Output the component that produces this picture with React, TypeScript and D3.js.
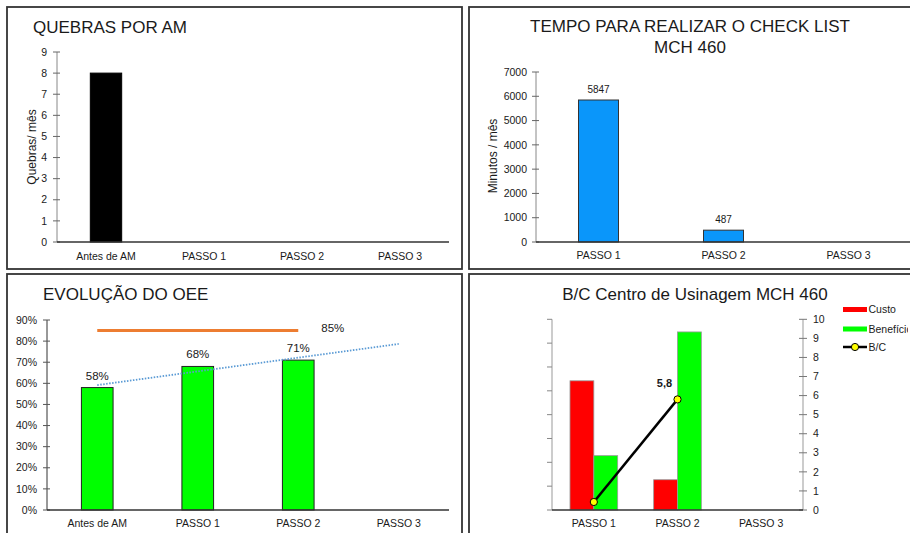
import React from "react";
import * as d3 from "d3";

const FONT = "'Liberation Sans', Arial, sans-serif";
const TXT = "#1a1a1a";

// Quebras por AM
const quebrasCategorias = ["Antes de AM", "PASSO 1", "PASSO 2", "PASSO 3"];
const quebrasValores: (number | null)[] = [8, null, null, null];
const quebrasTicks = [0, 1, 2, 3, 4, 5, 6, 7, 8, 9];

// Tempo para realizar o check list
const tempoCategorias = ["PASSO 1", "PASSO 2", "PASSO 3"];
const tempoValores: (number | null)[] = [5847, 487, null];
const tempoTicks = [0, 1000, 2000, 3000, 4000, 5000, 6000, 7000];

// Evolução do OEE
const oeeCategorias = ["Antes de AM", "PASSO 1", "PASSO 2", "PASSO 3"];
const oeeValores: (number | null)[] = [0.58, 0.68, 0.71, null];
const oeeMeta: (number | null)[] = [0.85, 0.85, 0.85, null];
const oeeTicks = [0, 0.1, 0.2, 0.3, 0.4, 0.5, 0.6, 0.7, 0.8, 0.9];

// B/C Centro de Usinagem
const bcCategorias = ["PASSO 1", "PASSO 2", "PASSO 3"];
const bcCusto: (number | null)[] = [5.42, 1.27, null];
const bcBeneficio: (number | null)[] = [2.28, 7.47, null];
const bcRelacao: (number | null)[] = [0.42, 5.8, null];
const bcTicksEsq = [0, 1, 2, 3, 4, 5, 6, 7, 8];
const bcTicksDir = [0, 1, 2, 3, 4, 5, 6, 7, 8, 9, 10];
const bcLegenda = ["Custo", "Benefício", "B/C"];

const pct = d3.format(".0%");

function Painel({ x, y, w, h }: { x: number; y: number; w: number; h: number }) {
  return <rect x={x} y={y} width={w} height={h} fill="#fff" stroke="#333" strokeWidth={1.8} />;
}

function QuebrasChart() {
  const x = d3.scaleBand().domain(quebrasCategorias).range([57, 449]);
  const y = d3.scaleLinear().domain([0, 9]).range([242, 52]);
  const bw = x.bandwidth() * 0.32;
  return (
    <g>
      <text x={33} y={33} fontSize={17} fill={TXT}>QUEBRAS POR AM</text>
      <line x1={57} x2={57} y1={y(9)} y2={y(0)} stroke="#888" />
      {quebrasTicks.map((t) => (
        <g key={t}>
          <line x1={53} x2={60} y1={y(t)} y2={y(t)} stroke="#666" />
          <text x={47} y={y(t)} dy="0.35em" textAnchor="end" fontSize={10.5} fill={TXT}>{t}</text>
        </g>
      ))}
      {quebrasValores.map((v, i) =>
        v == null ? null : (
          <rect key={i} x={x(quebrasCategorias[i])! + (x.bandwidth() - bw) / 2} y={y(v)} width={bw} height={y(0) - y(v)} fill="#000" stroke="#000" />
        )
      )}
      <line x1={57} x2={449} y1={242} y2={242} stroke="#333" strokeWidth={1.5} />
      {quebrasCategorias.map((c) => (
        <text key={c} x={x(c)! + x.bandwidth() / 2} y={260} textAnchor="middle" fontSize={10.5} fill={TXT}>{c}</text>
      ))}
      <text transform="translate(36,147) rotate(-90)" textAnchor="middle" fontSize={12} fill={TXT}>Quebras/ mês</text>
    </g>
  );
}

function TempoChart() {
  const x = d3.scaleBand().domain(tempoCategorias).range([536, 911]);
  const y = d3.scaleLinear().domain([0, 7000]).range([242, 72]);
  const bw = x.bandwidth() * 0.32;
  return (
    <g>
      <text x={690} y={32} textAnchor="middle" fontSize={17} fill={TXT}>TEMPO PARA REALIZAR O CHECK LIST</text>
      <text x={690} y={53} textAnchor="middle" fontSize={17} fill={TXT}>MCH 460</text>
      <line x1={536} x2={536} y1={y(7000)} y2={y(0)} stroke="#888" />
      {tempoTicks.map((t) => (
        <g key={t}>
          <line x1={532} x2={539} y1={y(t)} y2={y(t)} stroke="#666" />
          <text x={527} y={y(t)} dy="0.35em" textAnchor="end" fontSize={10.5} fill={TXT}>{t}</text>
        </g>
      ))}
      {tempoValores.map((v, i) =>
        v == null ? null : (
          <g key={i}>
            <rect x={x(tempoCategorias[i])! + (x.bandwidth() - bw) / 2} y={y(v)} width={bw} height={y(0) - y(v)} fill="#0A96FA" stroke="#333" />
            <text x={x(tempoCategorias[i])! + x.bandwidth() / 2} y={y(v) - 7} textAnchor="middle" fontSize={10} fill={TXT}>{v}</text>
          </g>
        )
      )}
      <line x1={536} x2={911} y1={242} y2={242} stroke="#333" strokeWidth={1.5} />
      {tempoCategorias.map((c) => (
        <text key={c} x={x(c)! + x.bandwidth() / 2} y={259} textAnchor="middle" fontSize={10.5} fill={TXT}>{c}</text>
      ))}
      <text transform="translate(497,156) rotate(-90)" textAnchor="middle" fontSize={12} fill={TXT}>Minutos / mês</text>
    </g>
  );
}

function OeeChart() {
  const x = d3.scaleBand().domain(oeeCategorias).range([47, 449]);
  const y = d3.scaleLinear().domain([0, 0.9]).range([510, 320]);
  const bw = x.bandwidth() * 0.315;
  const cx = (i: number) => x(oeeCategorias[i])! + x.bandwidth() / 2;

  // linear trend of the measured OEE, extended across every step
  const pts = oeeValores.map((v, i) => [i, v] as [number, number | null]).filter((p) => p[1] != null) as [number, number][];
  const mx = d3.mean(pts, (p) => p[0])!;
  const my = d3.mean(pts, (p) => p[1])!;
  const slope = d3.sum(pts, (p) => (p[0] - mx) * (p[1] - my)) / d3.sum(pts, (p) => (p[0] - mx) ** 2);
  const trend = (i: number) => my + slope * (i - mx);
  const last = oeeCategorias.length - 1;

  const metaIdx = oeeMeta.map((v, i) => (v == null ? -1 : i)).filter((i) => i >= 0);
  const metaLine = d3.line<number>().x((i) => cx(i)).y((i) => y(oeeMeta[i]!));
  const metaLast = metaIdx[metaIdx.length - 1];

  return (
    <g>
      <text x={43} y={300} fontSize={17} fill={TXT}>EVOLUÇÃO DO OEE</text>
      <line x1={47} x2={47} y1={y(0.9)} y2={y(0)} stroke="#333" />
      {oeeTicks.map((t) => (
        <g key={t}>
          <line x1={43} x2={50} y1={y(t)} y2={y(t)} stroke="#555" />
          <text x={37} y={y(t)} dy="0.35em" textAnchor="end" fontSize={10.5} fill={TXT}>{pct(t)}</text>
        </g>
      ))}
      {oeeValores.map((v, i) =>
        v == null ? null : (
          <g key={i}>
            <rect x={cx(i) - bw / 2} y={y(v)} width={bw} height={y(0) - y(v)} fill="#00FF00" stroke="#222" />
            <text x={cx(i)} y={y(v) - 8} textAnchor="middle" fontSize={11.5} fill={TXT}>{pct(v)}</text>
          </g>
        )
      )}
      <path d={metaLine(metaIdx)!} stroke="#ED7D31" strokeWidth={3} fill="none" />
      <text x={cx(metaLast) + 23} y={y(oeeMeta[metaLast]!) + 1} fontSize={11.5} fill={TXT}>{pct(oeeMeta[metaLast]!)}</text>
      <line x1={cx(0)} y1={y(trend(0))} x2={cx(last)} y2={y(trend(last))} stroke="#5B9BD5" strokeWidth={1.8} strokeDasharray="1.5 1.5" />
      <line x1={47} x2={449} y1={510} y2={510} stroke="#333" strokeWidth={1.5} />
      {oeeCategorias.map((c, i) => (
        <text key={c} x={cx(i)} y={527} textAnchor="middle" fontSize={10.5} fill={TXT}>{c}</text>
      ))}
    </g>
  );
}

function BcChart() {
  const x = d3.scaleBand().domain(bcCategorias).range([552, 803]);
  const yL = d3.scaleLinear().domain([0, 8]).range([510, 319.3]);
  const yR = d3.scaleLinear().domain([0, 10]).range([510, 319.3]);
  const grp = x.bandwidth() * 0.57;
  const inner = d3.scaleBand().domain(["custo", "beneficio"]).range([0, grp]);
  const cx = (i: number) => x(bcCategorias[i])! + x.bandwidth() / 2;
  const series = [
    { key: "custo", vals: bcCusto, fill: "#FF0000" },
    { key: "beneficio", vals: bcBeneficio, fill: "#00FF00" },
  ];
  const relIdx = bcRelacao.map((v, i) => (v == null ? -1 : i)).filter((i) => i >= 0);
  const relLine = d3.line<number>().x((i) => cx(i)).y((i) => yR(bcRelacao[i]!));
  const fmt = (v: number) => d3.format(".1f")(v).replace(".", ",");
  const lastRel = relIdx[relIdx.length - 1];
  const legY = [309.5, 329, 347];

  return (
    <g>
      <defs>
        <clipPath id="leg-clip">
          <rect x={830} y={295} width={78} height={70} />
        </clipPath>
      </defs>
      <text x={695} y={300} textAnchor="middle" fontSize={17} fill={TXT}>B/C Centro de Usinagem MCH 460</text>
      <line x1={552} x2={552} y1={yL(8)} y2={yL(0)} stroke="#999" />
      {bcTicksEsq.map((t) => (
        <line key={t} x1={547} x2={552} y1={yL(t)} y2={yL(t)} stroke="#888" />
      ))}
      <line x1={803} x2={803} y1={yR(10)} y2={yR(0)} stroke="#999" />
      {bcTicksDir.map((t) => (
        <g key={t}>
          <line x1={799} x2={807} y1={yR(t)} y2={yR(t)} stroke="#777" />
          <text x={813} y={yR(t)} dy="0.35em" fontSize={10.5} fill={TXT}>{t}</text>
        </g>
      ))}
      {series.map((s) =>
        s.vals.map((v, i) =>
          v == null ? null : (
            <rect key={s.key + i} x={cx(i) - grp / 2 + inner(s.key)!} y={yL(v)} width={inner.bandwidth()} height={yL(0) - yL(v)} fill={s.fill} stroke="#999" strokeWidth={0.8} />
          )
        )
      )}
      <line x1={552} x2={803} y1={510} y2={510} stroke="#333" strokeWidth={1.5} />
      <path d={relLine(relIdx)!} stroke="#000" strokeWidth={2.5} fill="none" />
      {relIdx.map((i) => (
        <circle key={i} cx={cx(i)} cy={yR(bcRelacao[i]!)} r={3.6} fill="#FFFF00" stroke="#000" strokeWidth={1} />
      ))}
      <text x={cx(lastRel) - 13} y={yR(bcRelacao[lastRel]!) - 12} textAnchor="middle" fontSize={11} fontWeight="bold" fill={TXT}>{fmt(bcRelacao[lastRel]!)}</text>
      {bcCategorias.map((c, i) => (
        <text key={c} x={cx(i)} y={527} textAnchor="middle" fontSize={10.5} fill={TXT}>{c}</text>
      ))}
      <g clipPath="url(#leg-clip)">
        <rect x={843} y={legY[0] - 2.5} width={24} height={5} fill="#FF0000" />
        <rect x={843} y={legY[1] - 2.5} width={24} height={5} fill="#00FF00" />
        <line x1={843} x2={867} y1={legY[2]} y2={legY[2]} stroke="#000" strokeWidth={2.5} />
        <circle cx={855} cy={legY[2]} r={3.6} fill="#FFFF00" stroke="#000" />
        {bcLegenda.map((l, i) => (
          <text key={l} x={868.5} y={legY[i]} dy="0.35em" fontSize={10.5} fill={TXT}>{l}</text>
        ))}
      </g>
    </g>
  );
}

export default function App() {
  return (
    <svg width={910} height={533} style={{ position: "absolute", left: 0, top: 0, background: "#fff" }} fontFamily={FONT}>
      <rect width={910} height={533} fill="#fff" />
      <Painel x={7} y={7} w={455} h={262} />
      <Painel x={469} y={7} w={460} h={262} />
      <Painel x={7} y={274} w={455} h={280} />
      <Painel x={469} y={274} w={460} h={280} />
      <QuebrasChart />
      <TempoChart />
      <OeeChart />
      <BcChart />
    </svg>
  );
}
